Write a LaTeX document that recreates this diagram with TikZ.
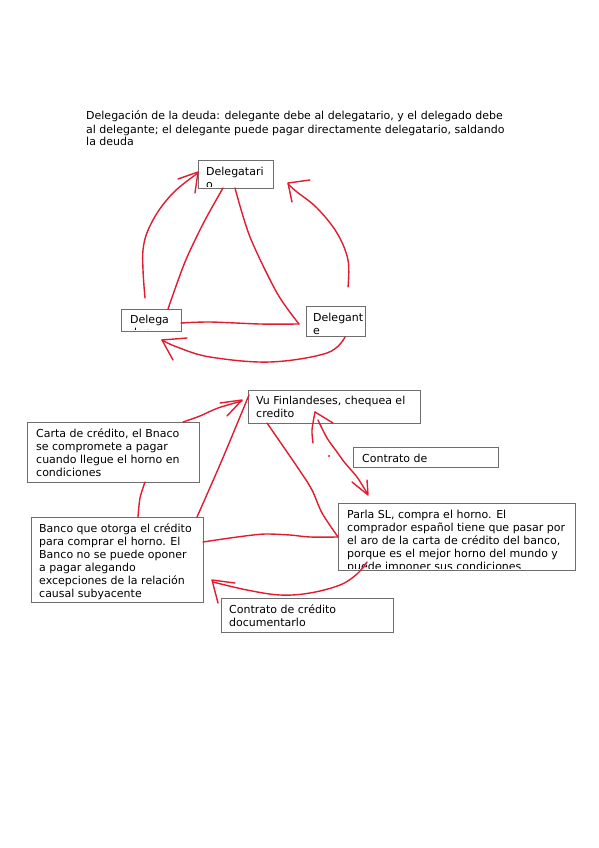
\documentclass[tikz,border=0pt]{standalone}
\usepackage{fontspec}
\setmainfont{DejaVu Sans}
\definecolor{pen}{RGB}{225,28,48}
\definecolor{frame}{RGB}{110,110,110}
\tikzset{
  box/.style={draw=frame, line width=0.9pt, inner sep=0pt, anchor=north west},
  txt/.style={anchor=base west, inner sep=0pt, align=left, font=\fontsize{11}{13}\selectfont},
  ink/.style={draw=pen, line width=1.4pt, line cap=round, line join=round}
}
\newcommand{\boxclip}[1]{\clip (#1.north west) rectangle ([yshift=2pt]#1.south east);}
\begin{document}
\begin{tikzpicture}[x=1pt,y=-1pt]
\useasboundingbox (0,0) rectangle (599,848);
\fill[white] (0,0) rectangle (599,848);

% title (base anchor = last line baseline)
\node[txt] (title) at (86,146) {Delegación de la deuda: delegante debe al delegatario, y el delegado debe\\al delegante; el delegante puede pagar directamente delegatario, saldando\\la deuda};

% boxes
\node[box, minimum width=75pt, minimum height=28pt] (dtario) at (198,160) {};
\node[box, minimum width=60pt, minimum height=22pt] (ddo) at (121,309) {};
\node[box, minimum width=59pt, minimum height=30pt] (dte) at (306,306) {};
\node[box, minimum width=172pt, minimum height=33pt] (vu) at (248,390) {};
\node[box, minimum width=145pt, minimum height=20pt] (contr) at (353,447) {};
\node[box, minimum width=237pt, minimum height=67pt] (parla) at (338,503) {};
\node[box, minimum width=172pt, minimum height=60pt] (carta) at (27,422) {};
\node[box, minimum width=172pt, minimum height=85pt] (banco) at (31,517) {};
\node[box, minimum width=172pt, minimum height=34pt] (cdoc) at (221,598) {};

% clipped texts (y = baseline of last line)
\begin{scope}\boxclip{dtario}
\node[txt] (t1) at (206,188) {Delegatari\\o};\end{scope}
\begin{scope}\boxclip{ddo}
\node[txt] (t2) at (130,336) {Delega\\dor};\end{scope}
\begin{scope}\boxclip{dte}
\node[txt] (t3) at (313,334) {Delegant\\e};\end{scope}
\begin{scope}\boxclip{vu}
\node[txt] (t4) at (256,417) {Vu Finlandeses, chequea el\\credito};\end{scope}
\begin{scope}\boxclip{contr}
\node[txt] (t5) at (362,462) {Contrato de};\end{scope}
\begin{scope}\boxclip{parla}
\node[txt] (t6) at (347,570) {Parla SL, compra el horno. El\\comprador español tiene que pasar por\\el aro de la carta de crédito del banco,\\porque es el mejor horno del mundo y\\puede imponer sus condiciones};\end{scope}
\begin{scope}\boxclip{carta}
\node[txt] (t7) at (36,476) {Carta de crédito, el Bnaco\\se compromete a pagar\\cuando llegue el horno en\\condiciones};\end{scope}
\begin{scope}\boxclip{banco}
\node[txt] (t8) at (39,597) {Banco que otorga el crédito\\para comprar el horno. El\\Banco no se puede oponer\\a pagar alegando\\excepciones de la relación\\causal subyacente};\end{scope}
\begin{scope}\boxclip{cdoc}
\node[txt] (t9) at (229,626) {Contrato de crédito\\documentarlo};\end{scope}

% ---- top triangle ----
\draw[ink] plot[smooth,tension=0.5] coordinates {(223,188) (204,222) (185,262) (168,309)};
\draw[ink] plot[smooth,tension=0.5] coordinates {(235,188) (250,237) (277,293) (299,324)};
\draw[ink] plot[smooth,tension=0.5] coordinates {(181,323) (210,322) (260,324) (299,324)};
% left arrow
\draw[ink] plot[smooth,tension=0.6] coordinates {(145,298) (143,250) (153,220) (173,193) (198,173)};
\draw[ink] (178,179) -- (198,172) -- (195,193);
% right arrow
\draw[ink] plot[smooth,tension=0.6] coordinates {(348,287) (348,260) (337,233) (317,208) (297,192) (288,184)};
\draw[ink] (310,180) -- (288,183) -- (292,202);
% bottom arrow
\draw[ink] plot[smooth,tension=0.6] coordinates {(345,337) (327,353) (270,362) (210,357) (177,347) (162,340)};
\draw[ink] (187,338) -- (162,340) -- (173,360);

% ---- bottom section ----
\draw[ink] plot[smooth,tension=0.5] coordinates {(267,423) (298,468) (312,490) (322,513) (338,537)};
\draw[ink] plot[smooth,tension=0.5] coordinates {(203,542) (223,539) (245,536) (265,534) (290,535) (310,537) (338,537)};
\draw[ink] plot[smooth,tension=0.5] coordinates {(197,517) (222,460) (249,395)};
\draw[ink] plot[smooth,tension=0.5] coordinates {(145,482) (140,498) (138,517)};
% carta arrow
\draw[ink] plot[smooth,tension=0.5] coordinates {(183,422) (200,416) (218,408) (242,401)};
\draw[ink] (220,403) -- (242,400) -- (227,416);
% vu <-> parla
\draw[ink] plot[smooth,tension=0.5] coordinates {(313,443) (312,430) (315,412)};
\draw[ink] (315,412) -- (333,423);
\draw[ink] plot[smooth,tension=0.5] coordinates {(318,420) (327,438) (337,452) (345,463) (357,477) (367,493)};
\draw[ink] (352,482) -- (368,495) -- (367,480);
\fill[pen] (329,456) circle (1.1);
% bottom arrow
\draw[ink] plot[smooth,tension=0.6] coordinates {(367,562) (357,574) (340,585) (310,593) (280,595) (247,590) (213,582)};
\draw[ink] (235,583) -- (212,580) -- (218,603);
\end{tikzpicture}
\end{document}
